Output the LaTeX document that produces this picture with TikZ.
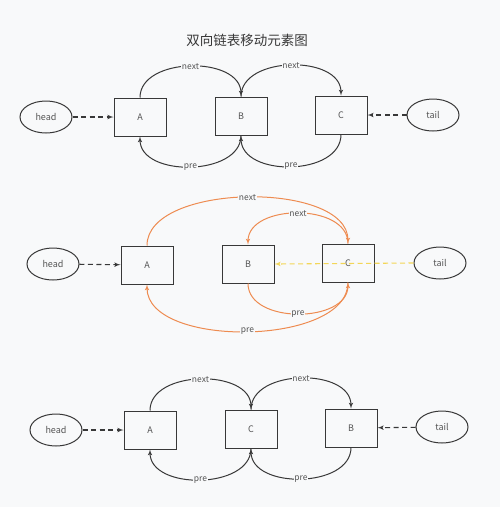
\documentclass[tikz,border=0pt]{standalone}
\usepackage{fontspec}
\setmainfont{Noto Sans CJK SC}
\usetikzlibrary{shapes,arrows}
\definecolor{bg}{HTML}{F8F9FA}
\definecolor{ink}{HTML}{383838}
\definecolor{txt}{HTML}{555555}
\definecolor{movecol}{HTML}{EE8B50}
\definecolor{tailcol}{HTML}{F3D657}
\tikzstyle{block} = [draw=ink, line width=1pt, rectangle, minimum width=52pt, minimum height=38pt, text=txt, font=\fontsize{9}{10}\selectfont]
\tikzstyle{ptr} = [draw=ink, line width=1pt, ellipse, minimum width=52pt, minimum height=32pt, inner sep=0pt, text=txt, font=\fontsize{9}{10}\selectfont]
\tikzstyle{link} = [->, draw=ink, line width=1pt]
\tikzstyle{move} = [->, draw=movecol, line width=1pt]
\tikzstyle{point} = [->, draw=ink, line width=1.1pt, dash pattern=on 5pt off 3.5pt]
\tikzstyle{lbl} = [fill=bg, inner sep=0.6pt, text=txt, font=\fontsize{8.5}{9}\selectfont]

\begin{document}
\begin{tikzpicture}[x=1pt, y=-1pt, >=latex']
	\fill[bg] (0,0) rectangle (500,507);
	\useasboundingbox (0,0) rectangle (500,507);

	\node[text=ink, font=\fontsize{13.5}{15}\selectfont] (title) at (247,40) {双向链表移动元素图};

	% BEFORE
	\node[ptr] (head1) at (46,117) {head};
	\node[block] (a1) at (140,117) {A};
	\node[block] (b1) at (241,116) {B};
	\node[block] (c1) at (341,115) {C};
	\node[ptr] (tail1) at (433,115) {tail};

	\draw[point] (head1) -- (a1);
	\draw[point] (tail1) -- (c1);
	\draw[link] (a1.north) .. controls +(0,-41) and +(0,-41) .. node[lbl] {next} (b1.north);
	\draw[link] (b1.north) .. controls +(0,-41) and +(0,-41) .. node[lbl] {next} (c1.north);
	\draw[link] (b1.south) .. controls +(0,41) and +(0,41) .. node[lbl] {pre} (a1.south);
	\draw[link] (c1.south) .. controls +(0,42) and +(0,42) .. node[lbl] {pre} (b1.south);

	% MOVING
	\node[ptr] (head2) at (53,264) {head};
	\node[block] (a2) at (147,265) {A};
	\node[block] (b2) at (248,264) {B};
	\node[block] (c2) at (348,263) {C};
	\node[ptr] (tail2) at (440,263) {tail};

	\draw[point] (head2) -- (a2);
	\draw[point, draw=tailcol] (tail2.west) -- (b2.east);
	\draw[move] (a2.north) .. controls +(0,-63) and +(0,-63) .. node[lbl] {next} (c2.north);
	\draw[move] (c2.north) .. controls +(0,-41) and +(0,-41) .. node[lbl] {next} (b2.north);
	\draw[move] (b2.south) .. controls +(0,41) and +(0,41) .. node[lbl] {pre} (c2.south);
	\draw[move] (c2.south) .. controls +(0,64) and +(0,64) .. node[lbl] {pre} (a2.south);

	% AFTER
	\node[ptr] (head3) at (56,430) {head};
	\node[block] (a3) at (150,430) {A};
	\node[block] (c3) at (251,429) {C};
	\node[block] (b3) at (351,428) {B};
	\node[ptr] (tail3) at (442,427) {tail};

	\draw[point] (head3) -- (a3);
	\draw[point] (tail3) -- (b3);
	\draw[link] (a3.north) .. controls +(0,-41) and +(0,-41) .. node[lbl] {next} (c3.north);
	\draw[link] (c3.north) .. controls +(0,-41) and +(0,-41) .. node[lbl] {next} (b3.north);
	\draw[link] (c3.south) .. controls +(0,41) and +(0,41) .. node[lbl] {pre} (a3.south);
	\draw[link] (b3.south) .. controls +(0,41) and +(0,41) .. node[lbl] {pre} (c3.south);
\end{tikzpicture}
\end{document}
